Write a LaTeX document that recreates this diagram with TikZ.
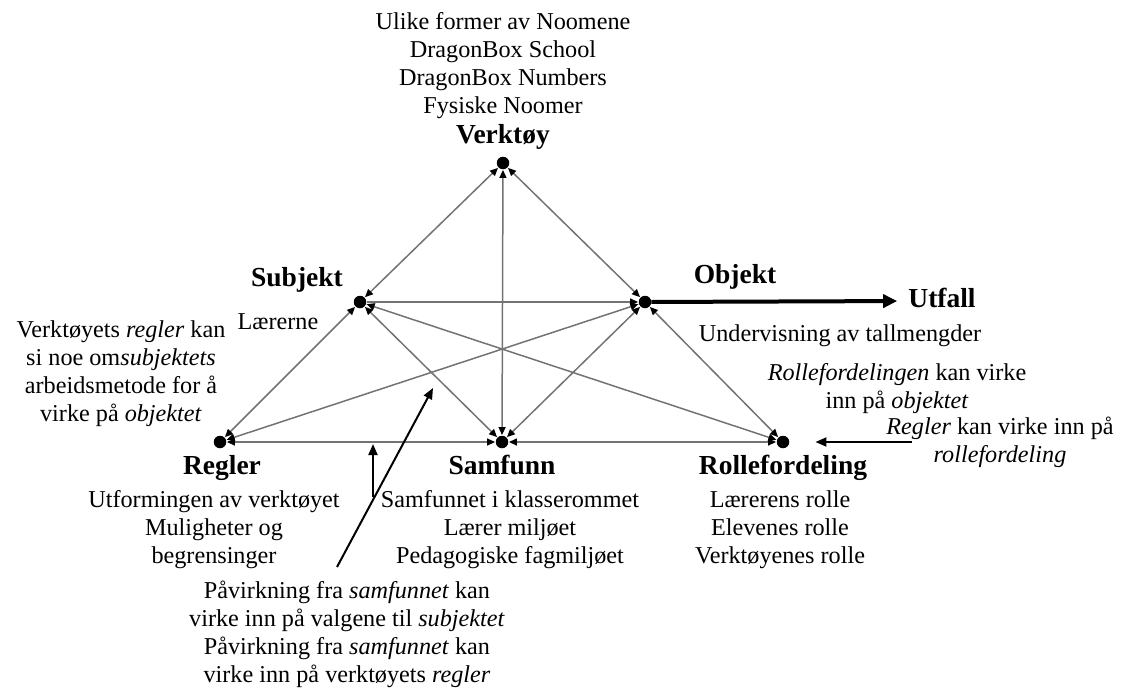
\documentclass[tikz,border=0pt]{standalone}
\usepackage{fontspec}
\setmainfont{Liberation Serif}
\usetikzlibrary{arrows.meta}
\begin{document}
\begin{tikzpicture}[x=1pt,y=-1pt,
  dot/.style={circle,fill=black,minimum size=12.5pt,inner sep=0pt},
  link/.style={draw=black!55,line width=1.5pt,
    >={Triangle[length=8pt,width=7pt,color=black]},shorten <=0.5pt,shorten >=0.5pt},
  pointer/.style={draw=black,line width=2pt,-{Triangle[length=11pt,width=9pt]}},
  result/.style={draw=black,line width=4pt,-{Triangle[length=14pt,width=13pt]}},
  txt/.style={font=\fontsize{24.2pt}{28pt}\selectfont,align=center,inner sep=0pt},
  head/.style={font=\fontsize{27.5pt}{32pt}\selectfont\bfseries,inner sep=0pt,
    text height=19pt,text depth=6pt}]
\useasboundingbox (0,0) rectangle (1124,689);

% the six corners of the activity system
\node[dot] (V)  at (503,163) {};
\node[dot] (S)  at (360,302) {};
\node[dot] (O)  at (645,302) {};
\node[dot] (R)  at (220,442) {};
\node[dot] (Sa) at (502,442) {};
\node[dot] (Ro) at (783,442) {};

% corner headings
\node[head] (hV)  at (503,137) {Verktøy};
\node[head] (hS)  at (297,280) {Subjekt};
\node[head] (hO)  at (735,277) {Objekt};
\node[head] (U)   at (942,301) {Utfall};
\node[head] (hR)  at (222,468) {Regler};
\node[head] (hSa) at (502,468) {Samfunn};
\node[head] (hRo) at (783,468) {Rollefordeling};

% descriptions
\node[txt] (tV) at (503,66) {Ulike former av Noomene\\DragonBox School\\DragonBox Numbers\\Fysiske Noomer};
\node[txt] (tS) at (278,322) {Lærerne};
\node[txt] (tL) at (121,374) {Verktøyets \textit{regler} kan\\si noe om\textit{subjektets}\\arbeidsmetode for å\\virke på \textit{objektet}};
\node[txt] (tO) at (840,336) {Undervisning av tallmengder};
\node[txt] (tRO) at (897,389) {\textit{Rollefordelingen} kan virke\\inn på \textit{objektet}};
\node[txt] (tRR) at (1000,442) {\textit{Regler} kan virke inn på\\\textit{rollefordeling}};
\node[txt] (tR) at (214,530) {Utformingen av verktøyet\\Muligheter og\\begrensinger};
\node[txt] (tSa) at (510,530) {Samfunnet i klasserommet\\Lærer miljøet\\Pedagogiske fagmiljøet};
\node[txt] (tRo) at (780,530) {Lærerens rolle\\Elevenes rolle\\Verktøyenes rolle};
\node[txt] (tB) at (347,634) {Påvirkning fra \textit{samfunnet} kan\\virke inn på valgene til \textit{subjektet}\\Påvirkning fra \textit{samfunnet} kan\\virke inn på verktøyets \textit{regler}};

% relations between the corners
\draw[link,<->] (V) -- (S);
\draw[link,<->] (V) -- (O);
\draw[link,<->] (V) -- (Sa);
\draw[link,->]  (S) -- (O);
\draw[link,<->] (S) -- (R);
\draw[link,<->] (S) -- (Sa);
\draw[link,<->] (S) -- (Ro);
\draw[link,<->] (O) -- (R);
\draw[link,<->] (O) -- (Sa);
\draw[link,<->] (O) -- (Ro);
\draw[link,<->] (R) -- (Sa);
\draw[link,<->] (Sa) -- (Ro);

% outcome
\draw[result,shorten >=11pt] (O) -- (U.west);

% influence pointers
\coordinate (rt) at (912,442);
\draw[pointer,shorten >=26pt] (rt) -- (Ro);
\coordinate (bt) at (337,567);
\coordinate (bm) at (433,388);
\draw[pointer] (bt) -- (bm);
\coordinate (ua) at (373,497);
\coordinate (ub) at (373,444);
\draw[pointer] (ua) -- (ub);
\end{tikzpicture}
\end{document}
